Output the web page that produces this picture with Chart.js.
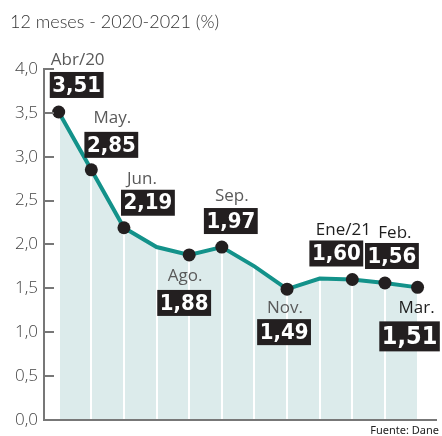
<!DOCTYPE html>
<html>
<head>
<meta charset="utf-8">
<script src="https://cdn.jsdelivr.net/npm/chart.js@4"></script>
<style>
  html, body { margin: 0; padding: 0; background: #fff; }
  #wrap { width: 442px; height: 436px; }
</style>
</head>
<body>
<div id="wrap"><canvas id="grafico" width="442" height="436"></canvas></div>
<script>
// Datos: inflación anual (12 meses) 2020-2021
const meses = ['Abr/20', 'May.', 'Jun.', 'Jul.', 'Ago.', 'Sep.', 'Oct.', 'Nov.', 'Dic.', 'Ene/21', 'Feb.', 'Mar.'];
const inflacion = [3.51, 2.85, 2.19, 1.97, 1.88, 1.97, 1.75, 1.49, 1.61, 1.60, 1.56, 1.51];
const conEtiqueta = [true, true, true, false, true, true, false, true, false, true, true, true];
const ticksY = [0, 0.5, 1, 1.5, 2, 2.5, 3, 3.5, 4];

// Posición de las etiquetas respecto al punto (nombre y caja del valor)
const posEtiquetas = {
    0: { nombre: [19, -52], caja: [18, -27] },
    1: { nombre: [21, -52], caja: [20, -25] },
    2: { nombre: [18, -49], caja: [24, -25] },
    4: { nombre: [-4, 21], caja: [-5, 48] },
    5: { nombre: [10, -51], caja: [9, -26] },
    7: { nombre: [-2, 19], caja: [-3, 43] },
    9: { nombre: [-9, -49], caja: [-16, -26], oscuro: true },
    10: { nombre: [10, -50], caja: [7, -27], oscuro: true },
    11: { nombre: [-1, 21], caja: [-8, 49], oscuro: true, grande: true }
};

const formatoComa = v => v.toFixed(1).replace('.', ',');
const fuenteTexto = '"Open Sans", "Noto Sans", sans-serif';

// Marcas del eje Y hacia dentro del área
const marcasY = {
    id: 'marcasY',
    afterDraw(chart) {
        const ctx = chart.ctx;
        const y = chart.scales.y;
        ctx.save();
        ctx.strokeStyle = '#777';
        ctx.lineWidth = 2;
        ticksY.forEach(v => {
            const py = Math.round(y.getPixelForValue(v));
            ctx.beginPath();
            ctx.moveTo(y.right - 1, py);
            ctx.lineTo(y.right + 10, py);
            ctx.stroke();
        });
        ctx.restore();
    }
};

// Etiquetas de meses y cajas de valores
const etiquetas = {
    id: 'etiquetas',
    afterDraw(chart) {
        const ctx = chart.ctx;
        const meta = chart.getDatasetMeta(0);
        ctx.save();
        ctx.textAlign = 'center';
        ctx.textBaseline = 'middle';
        meta.data.forEach((pt, i) => {
            const pos = posEtiquetas[i];
            if (!pos) return;
            // nombre del mes
            ctx.font = '400 17px ' + fuenteTexto;
            ctx.fillStyle = pos.oscuro ? '#1e1e1e' : '#5a5a5a';
            ctx.fillText(meses[i], pt.x + pos.nombre[0], pt.y + pos.nombre[1]);
            // caja del valor
            const texto = inflacion[i].toFixed(2).replace('.', ',');
            const tam = pos.grande ? 25 : 22;
            ctx.font = 'bold ' + tam + 'px "DejaVu Sans Condensed", "Liberation Sans Narrow", sans-serif';
            const w = ctx.measureText(texto).width + 5;
            const h = pos.grande ? 30 : 26;
            const cx = pt.x + pos.caja[0];
            const cy = pt.y + pos.caja[1];
            ctx.fillStyle = '#231f20';
            ctx.fillRect(cx - w / 2, cy - h / 2, w, h);
            ctx.fillStyle = '#fff';
            ctx.fillText(texto, cx, cy + 1);
        });
        // título y fuente
        ctx.textAlign = 'left';
        ctx.textBaseline = 'alphabetic';
        ctx.font = '300 18px Lato, "Noto Sans", sans-serif';
        ctx.fillStyle = '#333';
        ctx.fillText('12 meses - 2020-2021 (%)', 10, 28);
        ctx.textAlign = 'right';
        ctx.font = '11px "Noto Sans", sans-serif';
        ctx.fillStyle = '#222';
        ctx.fillText('Fuente: Dane', 439, 434);
        ctx.restore();
    }
};

const grafico = new Chart(document.getElementById('grafico'), {
    type: 'line',
    data: {
        datasets: [{
            data: inflacion.map((v, i) => ({ x: i, y: v })),
            borderColor: '#13928a',
            borderWidth: 4,
            backgroundColor: '#dcebeb',
            fill: 'origin',
            tension: 0,
            pointRadius: conEtiqueta.map(e => e ? 6.5 : 0),
            pointBackgroundColor: '#231f20',
            pointBorderWidth: 0,
            pointHoverRadius: 0
        }]
    },
    options: {
        responsive: false,
        animation: false,
        events: [],
        layout: { padding: { top: 69, right: 2, bottom: 16, left: 0 } },
        plugins: {
            legend: { display: false },
            tooltip: { enabled: false },
            filler: { drawTime: 'beforeDraw' }
        },
        scales: {
            x: {
                type: 'linear',
                min: -0.45,
                max: 11.55,
                afterBuildTicks: s => { s.ticks = meses.map((m, i) => ({ value: i })); },
                afterFit: s => { s.height = 0; },
                ticks: { display: false },
                grid: { color: '#fff', lineWidth: 2, drawTicks: false },
                border: { color: '#777', width: 2 }
            },
            y: {
                min: 0,
                max: 4,
                afterBuildTicks: s => { s.ticks = ticksY.map(v => ({ value: v })); },
                afterFit: s => { s.width = 44; },
                ticks: {
                    padding: 6,
                    color: '#444',
                    font: { family: fuenteTexto, size: 17, weight: '300' },
                    callback: v => formatoComa(v)
                },
                grid: { drawOnChartArea: false, drawTicks: false },
                border: { color: '#777', width: 2 }
            }
        }
    },
    plugins: [marcasY, etiquetas]
});

// Ajustar el área: 0 en y=420, 4 en y=69, borde derecho en x=440
const area = grafico.chartArea;
grafico.options.layout.padding.bottom += area.bottom - 420;
grafico.options.layout.padding.top += 69 - area.top;
grafico.options.layout.padding.right += area.right - 440;
grafico.update();
</script>
</body>
</html>
